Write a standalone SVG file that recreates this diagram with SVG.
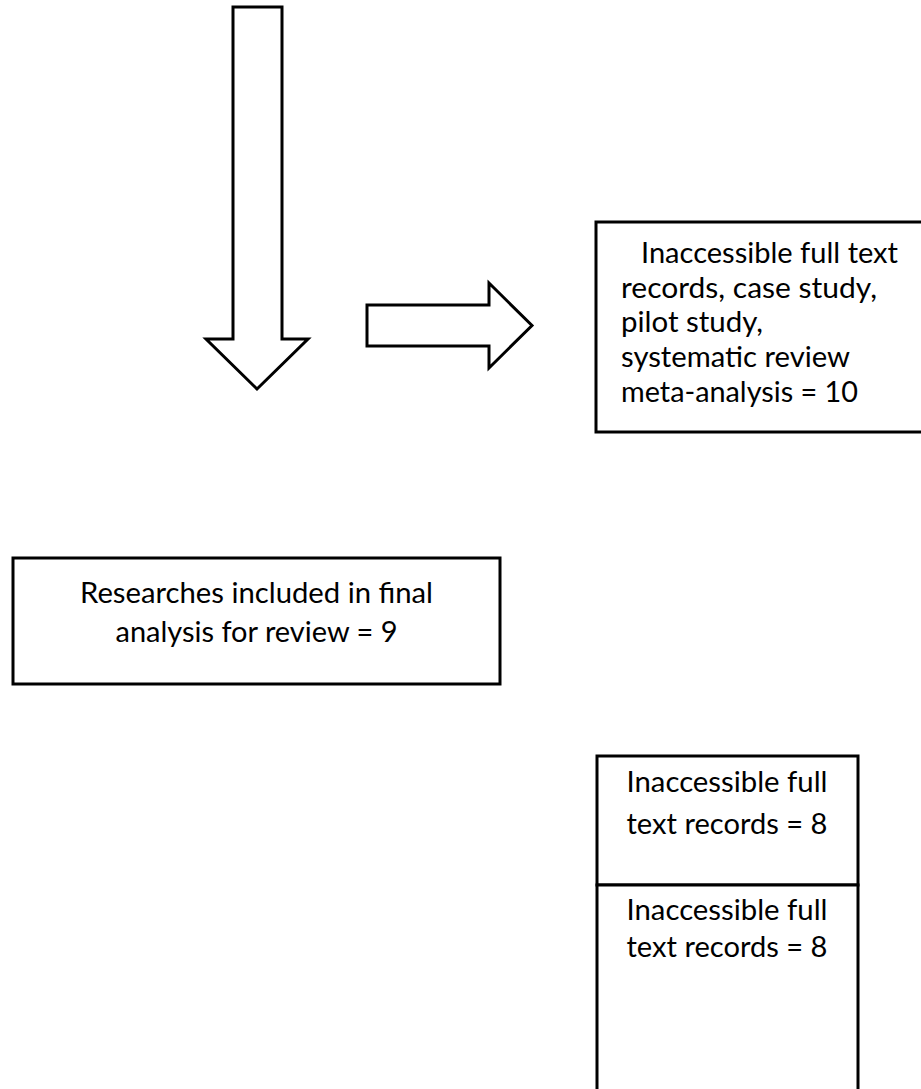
<svg xmlns="http://www.w3.org/2000/svg" width="921" height="1089" viewBox="0 0 921 1089">
<style>
.box{fill:#fff;stroke:#000;stroke-width:3}
.arr{fill:#fff;stroke:#000;stroke-width:3;stroke-linejoin:miter}
.t{font-family:Lato,"Open Sans","Liberation Sans",sans-serif;font-size:28px;fill:#000}
.c{text-anchor:middle}
</style>
<rect width="921" height="1089" fill="#fff"/>
<g id="connectors">
<polygon class="arr" points="233,7 282,7 282,339 308,339 257,389 206,339 233,339"/>
<polygon class="arr" points="367,305 489,305 489,283 532,325.5 489,368 489,346 367,346"/>
</g>
<g id="node-excluded">
<rect class="box" x="596" y="222" width="340" height="210"/>
<text class="t" x="641" y="263" textLength="257" lengthAdjust="spacingAndGlyphs">Inaccessible full text</text>
<text class="t" x="621" y="298" textLength="256" lengthAdjust="spacingAndGlyphs">records, case study,</text>
<text class="t" x="621" y="332" textLength="142" lengthAdjust="spacingAndGlyphs">pilot study,</text>
<text class="t" x="621" y="367" textLength="229" lengthAdjust="spacingAndGlyphs">systematic review</text>
<text class="t" x="621" y="402" textLength="237" lengthAdjust="spacingAndGlyphs">meta-analysis = 10</text>
</g>
<g id="node-included">
<rect class="box" x="13" y="558" width="487" height="126"/>
<text class="t c" x="256.5" y="603" textLength="353" lengthAdjust="spacingAndGlyphs">Researches included in final</text>
<text class="t c" x="256.5" y="642" textLength="282" lengthAdjust="spacingAndGlyphs">analysis for review = 9</text>
</g>
<g id="node-inaccessible-1">
<rect class="box" x="597" y="756" width="261" height="129"/>
<text class="t c" x="727" y="792" textLength="201" lengthAdjust="spacingAndGlyphs">Inaccessible full</text>
<text class="t c" x="727" y="834" textLength="201" lengthAdjust="spacingAndGlyphs">text records = 8</text>
</g>
<g id="node-inaccessible-2">
<rect class="box" x="597" y="885" width="261" height="220"/>
<text class="t c" x="727" y="920" textLength="201" lengthAdjust="spacingAndGlyphs">Inaccessible full</text>
<text class="t c" x="727" y="957" textLength="201" lengthAdjust="spacingAndGlyphs">text records = 8</text>
</g>
</svg>
